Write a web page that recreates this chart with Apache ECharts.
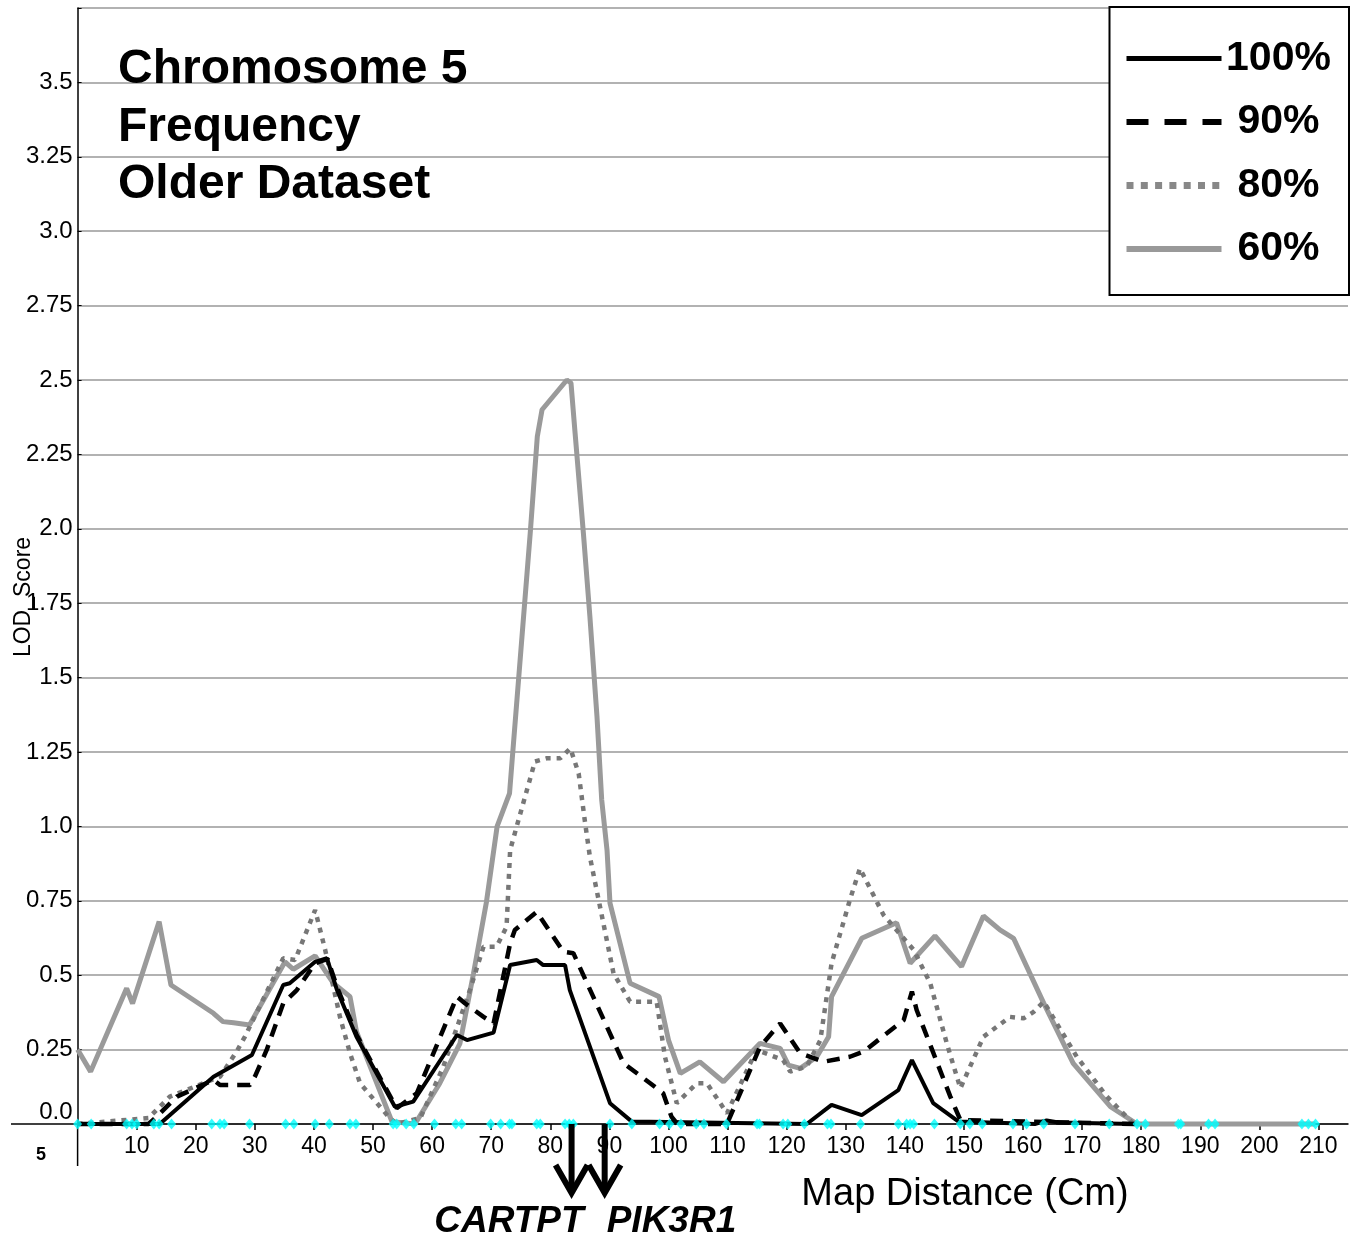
<!DOCTYPE html>
<html>
<head>
<meta charset="utf-8">
<script src="https://cdn.jsdelivr.net/npm/echarts@6/dist/echarts.min.js"></script>
<style>
  html, body { margin: 0; padding: 0; background: #fff; }
  #main { width: 1357px; height: 1241px; }
</style>
</head>
<body>
<div id="main"></div>
<script>
// LOD score curves, map distance (cM) -> LOD
const x100 = [0, 12, 13.9, 23, 29.5, 34.8, 35.9, 40.2, 42.2, 43.9, 47.2, 53.7, 56.8, 64.2, 65.9, 70.4, 73.2, 77.7, 78.8, 82.5, 83.3, 90.1, 93.8, 123.4, 127.6, 132.7, 138.9, 141.2, 144.8, 149.1, 162, 164, 166, 178.7]
const y100 = [0, 0, 0, 0.159, 0.232, 0.467, 0.473, 0.545, 0.557, 0.45, 0.293, 0.058, 0.075, 0.299, 0.282, 0.307, 0.534, 0.551, 0.534, 0.534, 0.45, 0.07, 0.008, 0, 0.064, 0.03, 0.114, 0.215, 0.07, 0.008, 0, 0.012, 0.005, 0]

const x90 = [0, 12, 13.4, 16.8, 23, 24.1, 29.2, 30.0, 32.0, 34.8, 37.1, 40.2, 42.3, 43.9, 47.2, 54.0, 57.4, 64.2, 65.6, 68.7, 70.4, 73.2, 74.0, 77.7, 82.2, 83.9, 92.4, 96.9, 99.1, 100.5, 101.5, 109.9, 115.5, 118.9, 122.3, 126.2, 130.7, 133.0, 139.8, 141.2, 142.0, 147.7, 149.4, 179]
const y90 = [0, 0, 0.025, 0.092, 0.148, 0.131, 0.131, 0.159, 0.249, 0.405, 0.45, 0.54, 0.555, 0.46, 0.3, 0.053, 0.103, 0.428, 0.405, 0.36, 0.338, 0.607, 0.652, 0.713, 0.579, 0.574, 0.204, 0.137, 0.103, 0.025, 0, 0, 0.26, 0.338, 0.238, 0.209, 0.226, 0.243, 0.349, 0.445, 0.383, 0.092, 0.013, 0]

const x80 = [0, 12.0, 15.6, 24.1, 26.9, 28.3, 34.8, 36.8, 40.2, 41.9, 44.4, 46.1, 47.8, 52.6, 54, 58.0, 61.9, 66.4, 68.7, 70.9, 72.6, 73.2, 74.3, 77.4, 79.4, 81.7, 83.4, 84.8, 85.9, 86.7, 90.7, 93.5, 98.0, 99.4, 101.4, 104.8, 106.5, 109.9, 114.9, 119.4, 120.6, 123.4, 125.7, 127.6, 130.7, 132.4, 136.4, 141.5, 144.3, 147.1, 149.4, 153.3, 157.8, 160.1, 161.8, 163.5, 169.1, 174.2, 178.7]
const y80 = [0, 0.02, 0.092, 0.159, 0.243, 0.293, 0.557, 0.551, 0.719, 0.585, 0.36, 0.238, 0.137, 0.025, 0, 0.02, 0.193, 0.45, 0.596, 0.596, 0.663, 0.92, 0.999, 1.218, 1.229, 1.229, 1.262, 1.178, 1.01, 0.898, 0.506, 0.411, 0.411, 0.226, 0.07, 0.137, 0.137, 0.036, 0.249, 0.215, 0.176, 0.193, 0.282, 0.54, 0.753, 0.859, 0.702, 0.585, 0.473, 0.271, 0.12, 0.293, 0.36, 0.355, 0.377, 0.411, 0.226, 0.092, 0]

const x60 = [0, 2.2, 8.3, 9.3, 13.8, 15.8, 23.0, 24.6, 26.4, 29.1, 35.1, 36.5, 40.2, 43.3, 46.1, 47.2, 53.2, 57.1, 61.3, 64.7, 67.0, 69.2, 71.0, 73.1, 73.5, 76.6, 77.8, 78.6, 82.8, 83.5, 84.2, 85.6, 86.7, 87.9, 88.7, 89.6, 90.1, 93.5, 98.4, 100.0, 102.0, 105.3, 109.3, 115.5, 118.9, 120.3, 122.3, 125.1, 127.1, 127.6, 132.7, 138.6, 140.9, 145.1, 149.6, 153.3, 156.1, 158.4, 163.5, 168.5, 174.8, 179.3, 209.5]
const y60 = [0.25, 0.176, 0.456, 0.405, 0.68, 0.467, 0.372, 0.344, 0.34, 0.333, 0.545, 0.52, 0.565, 0.473, 0.428, 0.31, 0.008, 0, 0.137, 0.27, 0.506, 0.747, 1.0, 1.111, 1.212, 1.985, 2.31, 2.40, 2.5, 2.49, 2.32, 1.985, 1.705, 1.369, 1.089, 0.92, 0.742, 0.473, 0.428, 0.282, 0.17, 0.209, 0.142, 0.271, 0.254, 0.198, 0.187, 0.226, 0.293, 0.428, 0.624, 0.676, 0.54, 0.632, 0.529, 0.699, 0.652, 0.624, 0.406, 0.204, 0.058, 0, 0]

// marker positions along the axis (cyan diamonds)
const markerPos = [0, 2.3, 8.3, 9.2, 10, 12.9, 13.8, 15.9, 22.7, 24.1, 24.8, 29.1, 35.2, 36.6, 40.2, 42.6, 46.1, 47.1, 53.4, 54.0, 55.6, 56.9, 60.4, 64.0, 65.0, 69.9, 71.6, 73.1, 73.5, 77.7, 78.3, 82.5, 83.2, 83.9, 90.1, 93.8, 98.5, 100.2, 102.1, 104.7, 106.0, 109.8, 115.0, 115.4, 119.4, 120.2, 123.0, 126.9, 127.5, 132.5, 138.9, 140.3, 140.9, 141.5, 145.0, 149.4, 151.0, 153.1, 158.3, 160.6, 163.5, 168.8, 174.6, 179.3, 180.7, 186.3, 186.7, 191.4, 192.5, 207.2, 208.3, 209.5]

const xTicks = [10, 20, 30, 40, 50, 60, 70, 80, 90, 100, 110, 120, 130, 140, 150, 160, 170, 180, 190, 200, 210]
const geneNames = ['CARTPT', 'PIK3R1']
const genePos = [83.6, 89.2]

const FONT = 'Liberation Sans, Arial, sans-serif'

const pairs = (xs, ys) => xs.map((x, i) => [x, ys[i]])
const noDot = { opacity: 0 }

const chart = echarts.init(document.getElementById('main'))

chart.setOption({
  animation: false,
  backgroundColor: '#fff',
  grid: { left: 77.6, right: 9, top: 8, bottom: 117 },
  xAxis: {
    type: 'value',
    min: 0,
    max: 215,
    axisLine: { onZero: false, lineStyle: { color: '#000', width: 1.5 } },
    axisTick: { customValues: xTicks, length: 6, lineStyle: { color: '#000', width: 1.5 } },
    axisLabel: { customValues: xTicks, fontSize: 23, fontFamily: FONT, color: '#000', margin: 11 },
    splitLine: { show: false }
  },
  yAxis: {
    type: 'value',
    min: 0,
    max: 3.75,
    interval: 0.25,
    axisLine: { show: true, lineStyle: { color: '#000', width: 1.5 } },
    axisTick: { show: true, inside: true, length: 4, lineStyle: { color: '#000', width: 1 } },
    splitLine: { lineStyle: { color: '#999', width: 1.5 } },
    axisLabel: {
      margin: 5,
      color: '#000',
      fontSize: 24,
      fontFamily: FONT,
      formatter: v => {
        if (v > 3.6) return ''
        if (v === 0) return '{z|0.0}'
        return Number.isInteger(v) ? v.toFixed(1) : String(v)
      },
      rich: { z: { fontSize: 24, fontFamily: FONT, color: '#000', padding: [0, 0, 24, 0] } }
    }
  },
  legend: {
    left: 1118,
    top: 33,
    orient: 'vertical',
    itemWidth: 95,
    itemHeight: 14,
    itemGap: 22.5,
    selectedMode: false,
    z: 10,
    formatter: n => '{a|' + n + '}',
    textStyle: {
      rich: { a: { width: 104, align: 'center', fontSize: 41, fontWeight: 'bold', fontFamily: FONT, color: '#000', lineHeight: 48 } }
    },
    data: [
      { name: '100%', itemStyle: noDot, lineStyle: { color: '#000', width: 5, type: 'solid' } },
      { name: '90%', itemStyle: noDot, lineStyle: { color: '#000', width: 6, type: [22, 16], cap: 'butt' } },
      { name: '80%', itemStyle: noDot, lineStyle: { color: '#888', width: 7, type: [7, 7.3], cap: 'butt' } },
      { name: '60%', itemStyle: noDot, lineStyle: { color: '#999', width: 6, type: 'solid' } }
    ]
  },
  series: [
    {
      name: '60%', type: 'line', data: pairs(x60, y60), symbol: 'none', clip: false, z: 2,
      itemStyle: { color: '#999' },
      lineStyle: { color: '#9a9a9a', width: 5 }
    },
    {
      name: '80%', type: 'line', data: pairs(x80, y80), symbol: 'none', clip: false, z: 3,
      itemStyle: { color: '#777' },
      lineStyle: { color: '#777', width: 4.5, type: [5, 6], cap: 'butt' }
    },
    {
      name: '90%', type: 'line', data: pairs(x90, y90), symbol: 'none', clip: false, z: 4,
      itemStyle: { color: '#000' },
      lineStyle: { color: '#000', width: 4.5, type: [13, 9], cap: 'butt' }
    },
    {
      name: '100%', type: 'line', data: pairs(x100, y100), symbol: 'none', clip: false, z: 5,
      itemStyle: { color: '#000' },
      lineStyle: { color: '#000', width: 4 }
    },
    {
      name: 'markers', type: 'scatter', data: markerPos.map(x => [x, 0]), z: 6,
      symbol: 'diamond', symbolSize: [9, 11], clip: false,
      itemStyle: { color: '#00ffff' }
    }
  ]
})

// gene arrows below the axis, placed with the axis scale
const axisY = chart.convertToPixel({ yAxisIndex: 0 }, 0)
const axisX0 = chart.convertToPixel({ xAxisIndex: 0 }, 0)
const arrows = []
genePos.forEach((pos, i) => {
  const px = chart.convertToPixel({ xAxisIndex: 0 }, pos)
  arrows.push({
    type: 'polyline', z: 7,
    shape: { points: [[px, axisY], [px, axisY + 68]] },
    style: { stroke: '#000', lineWidth: 6, fill: null }
  })
  arrows.push({
    type: 'polyline', z: 7,
    shape: { points: [[px - 16, axisY + 41], [px, axisY + 69], [px + 16, axisY + 41]] },
    style: { stroke: '#000', lineWidth: 6, fill: null, lineJoin: 'miter' }
  })
  arrows.push({
    type: 'text', z: 7,
    x: i === 0 ? px + 12 : px + 2,
    y: axisY + 98,
    style: {
      text: geneNames[i],
      font: 'italic bold 37px ' + FONT,
      fill: '#000',
      align: i === 0 ? 'right' : 'left',
      textAlign: i === 0 ? 'right' : 'left',
      verticalAlign: 'middle',
      textVerticalAlign: 'middle'
    }
  })
})

chart.setOption({
  graphic: [
    // title block
    {
      type: 'text', z: 7, x: 118, y: 41.5,
      style: {
        text: 'Chromosome 5\nFrequency\nOlder Dataset',
        font: 'bold 48px ' + FONT,
        lineHeight: 57.5,
        fill: '#000',
        align: 'left', textAlign: 'left',
        verticalAlign: 'top', textVerticalAlign: 'top'
      }
    },
    // legend frame
    {
      type: 'rect', z: 3,
      shape: { x: 1109.5, y: 7, width: 239.5, height: 288 },
      style: { fill: '#fff', stroke: '#000', lineWidth: 2 }
    },
    // axis line extensions
    {
      type: 'line', z: 1,
      shape: { x1: 11, y1: axisY, x2: axisX0, y2: axisY },
      style: { stroke: '#000', lineWidth: 1.5 }
    },
    {
      type: 'line', z: 1,
      shape: { x1: axisX0, y1: axisY, x2: axisX0, y2: axisY + 42 },
      style: { stroke: '#000', lineWidth: 1.5 }
    },
    {
      type: 'text', z: 7, x: 41, y: 1155,
      style: { text: '5', font: 'bold 18px ' + FONT, fill: '#000', align: 'center', textAlign: 'center', verticalAlign: 'middle', textVerticalAlign: 'middle' }
    },
    {
      type: 'text', z: 7, x: 24, y: 597, rotation: Math.PI / 2,
      style: { text: 'LOD_Score', font: '23px ' + FONT, fill: '#000', align: 'center', textAlign: 'center', verticalAlign: 'middle', textVerticalAlign: 'middle' }
    },
    {
      type: 'text', z: 7, x: 965, y: 1195,
      style: { text: 'Map Distance (Cm)', font: '38px ' + FONT, fill: '#000', align: 'center', textAlign: 'center', verticalAlign: 'middle', textVerticalAlign: 'middle' }
    }
  ].concat(arrows)
})
</script>
</body>
</html>
